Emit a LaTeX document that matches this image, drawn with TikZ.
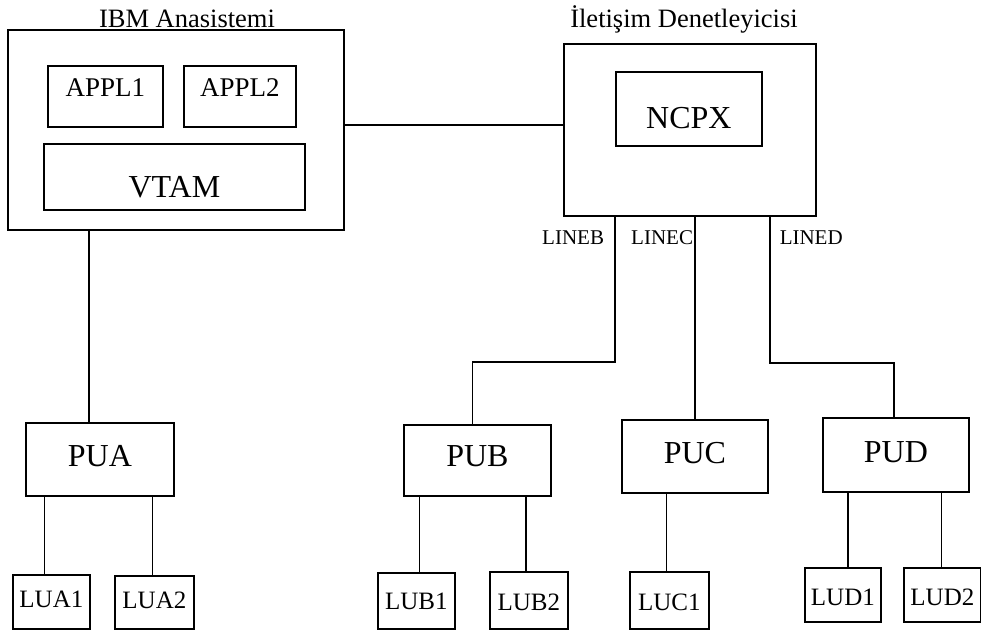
\documentclass[tikz,border=0pt]{standalone}
\usepackage{fontspec}
\setmainfont{Liberation Serif}
\usetikzlibrary{positioning}
\tikzset{
  box/.style={draw, line width=1.8pt, anchor=north west, inner xsep=0pt, inner ysep=0pt},
  big/.style={font=\fontsize{32}{36}\selectfont},
  mid/.style={font=\fontsize{27}{30}\selectfont},
  small/.style={font=\fontsize{25}{28}\selectfont},
  title/.style={font=\fontsize{26.5}{30}\selectfont, anchor=base, inner sep=0pt},
  linelabel/.style={font=\fontsize{21}{24}\selectfont, inner sep=0pt},
}
\begin{document}
\begin{tikzpicture}[x=10pt,y=-10pt,line width=1.7pt]
		\useasboundingbox (0,0) rectangle (98.1,63);
		% IBM host
		\node[box, minimum width=336pt, minimum height=200pt] (ibm) at (0.7,2.9) {};
		\node[title] (ibmtitle) at (18.7,2.7) {IBM Anasistemi};
		\node[box, mid, minimum width=115pt, text height=31pt, text depth=30pt] (appl1) at (4.7,6.5) {APPL1};
		\node[box, mid, minimum width=112pt, text height=31pt, text depth=30pt] (appl2) at (18.3,6.5) {APPL2};
		\node[box, big, minimum width=261pt, text height=54pt, text depth=12pt] (vtam) at (4.3,14.3) {VTAM};
		
		% communication controller
		\node[box, minimum width=252pt, minimum height=172pt] (ncp) at (56.3,4.3) {};
		\node[title] (ncptitle) at (68.4,2.7) {İletişim Denetleyicisi};
		\node[box, big, minimum width=146pt, text height=57pt, text depth=17pt] (ncpx) at (61.5,7.1) {NCPX};
		
		\draw ([yshift=5pt]ibm.east) -- ([yshift=5pt]ncp.west);
		
		% physical units
		\node[box, big, minimum width=148pt, text height=44pt, text depth=29pt] (pua) at (2.5,42.2) {PUA};
		\node[box, big, minimum width=147pt, text height=42pt, text depth=29pt] (pub) at (40.3,42.4) {PUB};
		\node[box, big, minimum width=146pt, text height=44pt, text depth=29pt] (puc) at (62.1,41.9) {PUC};
		\node[box, big, minimum width=146pt, text height=45pt, text depth=29pt] (pud) at (82.2,41.7) {PUD};
		
		% logical units
		\node[box, small, minimum width=77pt, text height=33pt, text depth=21pt] (lua1) at (1.2,57.4) {LUA1};
		\node[box, small, minimum width=79pt, text height=33pt, text depth=20pt] (lua2) at (11.4,57.5) {LUA2};
		\node[box, small, minimum width=77pt, text height=37pt, text depth=19pt] (lub1) at (37.7,57.2) {LUB1};
		\node[box, small, minimum width=78pt, text height=39pt, text depth=18pt] (lub2) at (48.9,57.1) {LUB2};
		\node[box, small, minimum width=79pt, text height=39pt, text depth=18pt] (luc1) at (62.9,57.1) {LUC1};
		\node[box, small, minimum width=76pt, text height=38pt, text depth=16pt] (lud1) at (80.4,56.7) {LUD1};
		\node[box, small, minimum width=77pt, text height=38pt, text depth=16pt] (lud2) at (90.3,56.7) {LUD2};
		
		\draw ([xshift=-11pt]pua.north) -- ([xshift=-11pt]pua.north |- ibm.south);
		
		% lines out of the controller
		\coordinate (portb) at ([xshift=-75pt]ncp.south);
		\coordinate (portc) at ([xshift=5pt]ncp.south);
		\coordinate (portd) at ([xshift=80pt]ncp.south);
		\draw (portb) -- ++(0,14.5) -| ([xshift=-5pt]pub.north);
		\draw (portc) -- (portc |- puc.north);
		\draw (portd) -- ++(0,14.6) -| ([xshift=-2pt]pud.north);
		\node[linelabel, anchor=base east] (lineb) at ([xshift=-10pt,yshift=-28pt]portb) {LINEB};
		\node[linelabel, anchor=base east] (linec) at ([xshift=-1pt,yshift=-28pt]portc) {LINEC};
		\node[linelabel, anchor=base west] (lined) at ([xshift=9pt,yshift=-28pt]portd) {LINED};
		
		\draw ([xshift=-7pt]lua1.north) -- ([xshift=-7pt]lua1.north |- pua.south);
		\draw ([xshift=-2pt]lua2.north) -- ([xshift=-2pt]lua2.north |- pua.south);
		\draw ([xshift=3pt]lub1.north) -- ([xshift=3pt]lub1.north |- pub.south);
		\draw ([xshift=-3pt]lub2.north) -- ([xshift=-3pt]lub2.north |- pub.south);
		\draw ([xshift=-3pt]luc1.north) -- ([xshift=-3pt]luc1.north |- puc.south);
		\draw ([xshift=5pt]lud1.north) -- ([xshift=5pt]lud1.north |- pud.south);
		\draw ([xshift=-1pt]lud2.north) -- ([xshift=-1pt]lud2.north |- pud.south);
	\end{tikzpicture}
\end{document}
